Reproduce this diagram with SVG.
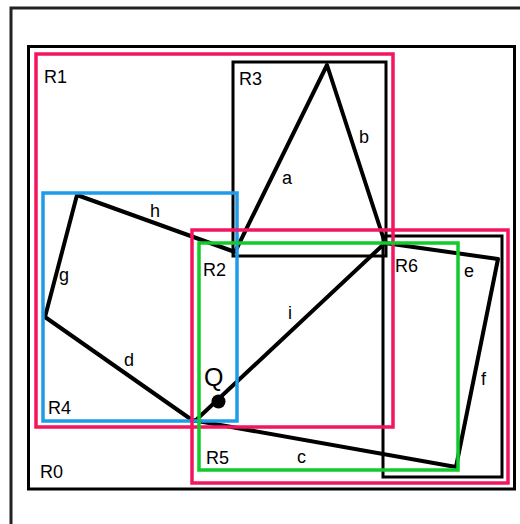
<svg xmlns="http://www.w3.org/2000/svg" width="520" height="524" viewBox="0 0 520 524">
<style>
.blk{fill:none;stroke:#000;stroke-width:3}
.pink{fill:none;stroke:#f2165e;stroke-width:3.5}
.blue{fill:none;stroke:#1e9bea;stroke-width:3.5}
.green{fill:none;stroke:#10cc2a;stroke-width:3.5}
.edge{fill:none;stroke:#000;stroke-width:4;stroke-linecap:round;stroke-linejoin:round}
text{font-family:"Liberation Sans",Arial,sans-serif;font-size:18px;fill:#000}
.q{font-size:25px}
</style>
<rect width="520" height="524" fill="#fff"/>
<rect x="11" y="8" width="620" height="620" fill="none" stroke="#222" stroke-width="3"/>
<g id="R0"><rect class="blk" x="28.5" y="46.5" width="486" height="442.5"/><text x="40" y="478">R0</text></g>
<g id="R3"><rect class="blk" x="233" y="62" width="153" height="194"/><text x="239" y="85">R3</text></g>
<g id="R6"><rect class="blk" x="383" y="236" width="119" height="241"/><text x="395" y="272">R6</text></g>
<g id="connectors">
<path class="edge" d="M77,195 L235,252 L327,65 L385,243 L498,259 L456,467 L192,420 L45,317 Z"/>
<line class="edge" x1="385" y1="243" x2="195" y2="421"/>
<text x="150" y="217">h</text>
<text x="282" y="184">a</text>
<text x="359" y="143">b</text>
<text x="464" y="277">e</text>
<text x="481" y="385">f</text>
<text x="297" y="463">c</text>
<text x="124" y="366">d</text>
<text x="59" y="281">g</text>
<text x="288" y="319">i</text>
</g>
<g id="R1"><rect class="pink" x="36" y="54" width="357" height="373"/><text x="44" y="83">R1</text></g>
<g id="R4"><rect class="blue" x="43" y="193" width="194" height="228"/><text x="48" y="414">R4</text></g>
<g id="R5"><rect class="pink" x="192" y="230" width="316" height="253"/><text x="206" y="464">R5</text></g>
<g id="R2"><rect class="green" x="199" y="243" width="259" height="227"/><text x="203" y="276">R2</text></g>
<g id="Q"><circle cx="218.5" cy="401.5" r="7" fill="#000"/><text class="q" x="204" y="386">Q</text></g>
</svg>
